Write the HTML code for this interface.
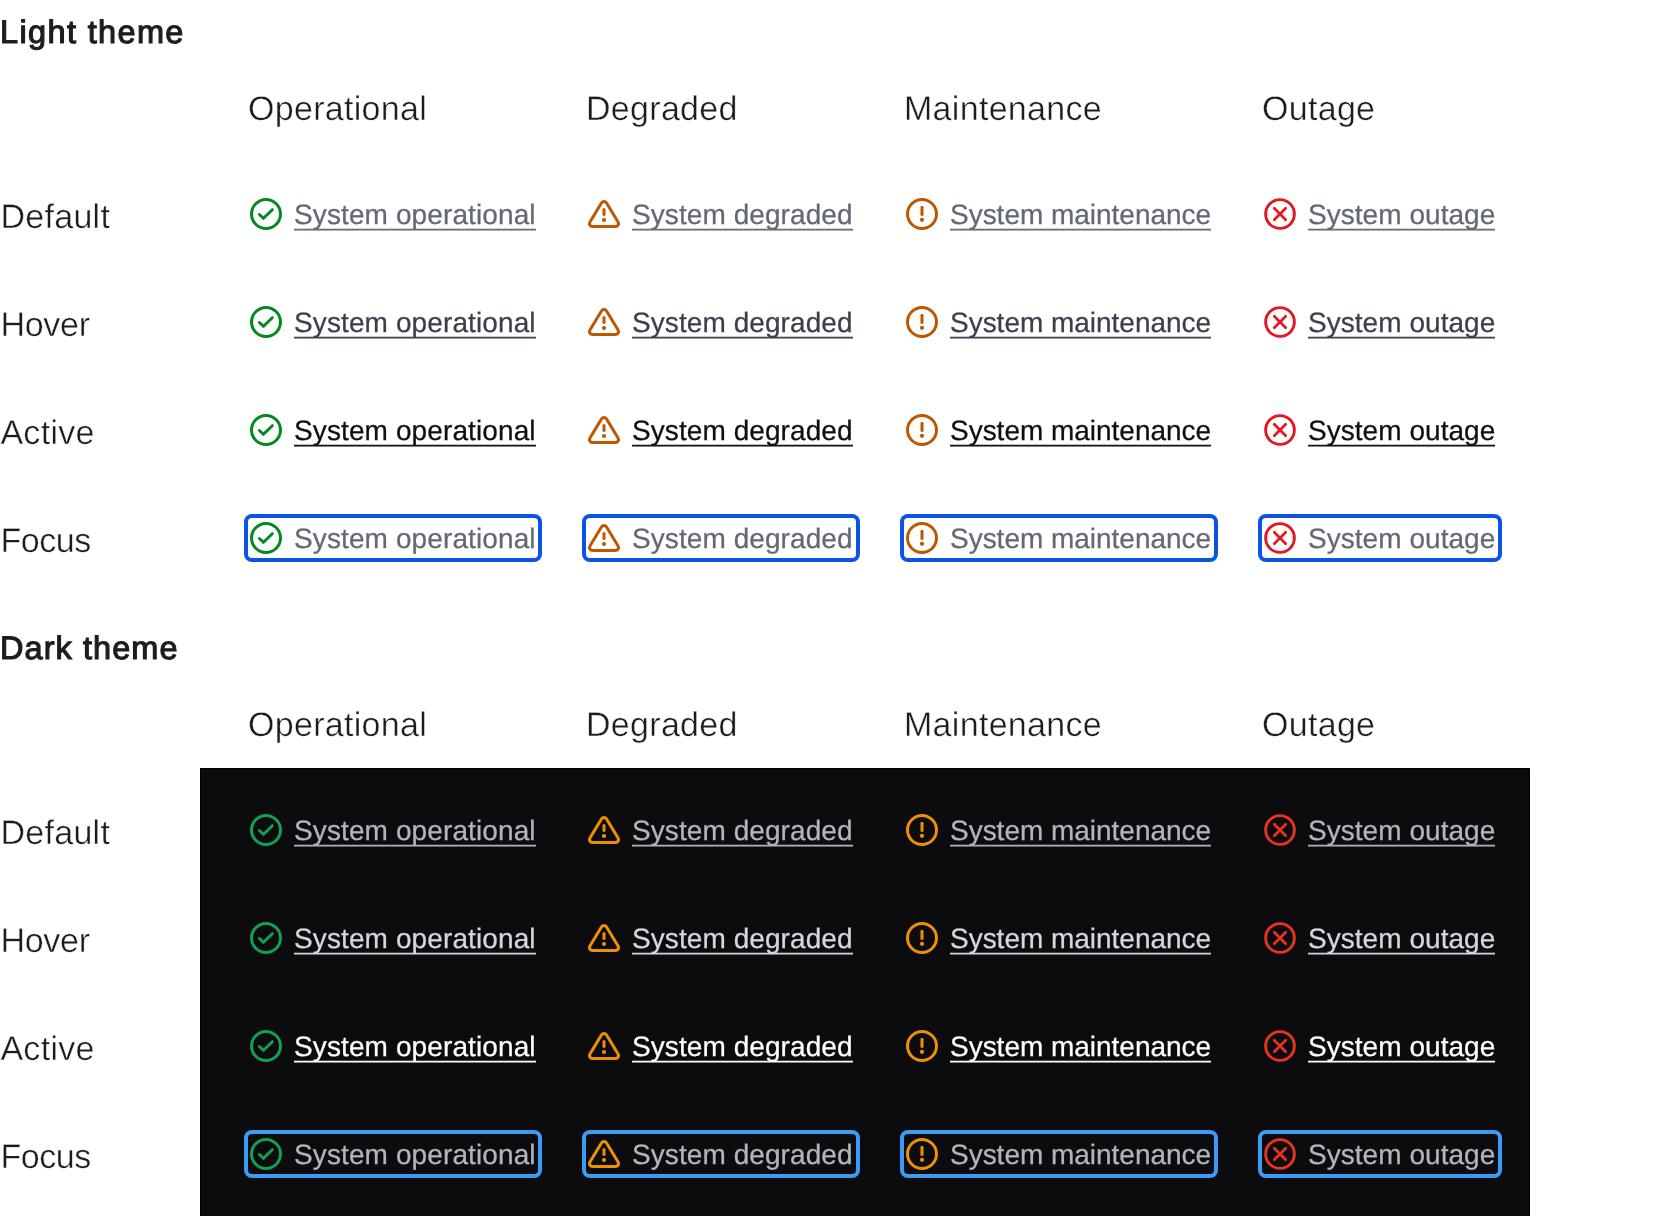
<!DOCTYPE html>
<html lang="en"><head><meta charset="utf-8"><title>System status link</title>
<style>
*{box-sizing:border-box;margin:0;padding:0}
html,body{width:1672px;height:1216px;overflow:hidden;background:#fff}
body{position:relative;font-family:"Liberation Sans", sans-serif;color:#1d1e22;-webkit-font-smoothing:antialiased;text-rendering:geometricPrecision}
section{position:absolute;left:0;top:0;width:1672px;height:1216px;will-change:transform}
h2{position:absolute;left:0;font-size:32.5px;font-weight:400;-webkit-text-stroke:1.15px #1c1d21;letter-spacing:1.36px;line-height:40px;color:#1c1d21;white-space:nowrap}
.ch,.rl{position:absolute;font-size:34px;font-weight:400;line-height:40px;color:#1b1c20;white-space:nowrap;letter-spacing:.3px;-webkit-text-stroke:.4px #fff}
.rl{left:0.4px}
.panel{position:absolute;left:200px;top:768px;width:1330px;height:460px;background:#0c0c0e;border:1px solid #000}
a.k{position:absolute;height:40px;display:block;text-decoration:none;border-radius:4px}
a.k svg{position:absolute;left:2px;top:4px;width:32px;height:32px;fill:none;stroke:currentColor;stroke-width:1.5;stroke-linecap:round;stroke-linejoin:round;overflow:visible}
a.k span{position:absolute;left:46px;top:0.7px;font-size:28px;line-height:40px;white-space:nowrap;color:rgb(var(--c));-webkit-text-stroke-width:.25px}
a.k::after{content:"";position:absolute;left:46px;right:3px;top:34px;height:3px;background:linear-gradient(to bottom,rgba(var(--c),.27) 0 1px,rgba(var(--c),.97) 1px 2px,rgba(var(--c),.52) 2px 3px)}
a.k.focus::after{display:none}
a.w0::after{right:2px}
.c0{letter-spacing:.11px} .c1{letter-spacing:.075px} .c2{letter-spacing:-.02px} .c3{letter-spacing:.04px}
.light a.k.focus{box-shadow:0 0 0 4px #0b52e6}
.dark a.k.focus{box-shadow:0 0 0 4px #3b9bf6}
.light .t-default,.light .t-focus{--c:99,104,118} .light .t-hover{--c:60,63,75} .light .t-active{--c:14,15,20}
.dark .t-default,.dark .t-focus{--c:177,181,191} .dark .t-hover{--c:212,215,222} .dark .t-active{--c:255,255,255}
.light .i-ok{color:#05881f} .light .i-warn{color:#bf5600} .light .i-maint{color:#bf5600} .light .i-out{color:#e4161f}
.dark .i-ok{color:#12a150} .dark .i-warn{color:#ee9002} .dark .i-maint{color:#ee9002} .dark .i-out{color:#e8341c}
</style></head>
<body>
<section class="light">
<h2 style="top:12px;">Light theme</h2>
<div class="ch" style="left:248px;top:89px">Operational</div>
<div class="ch" style="left:586px;top:89px">Degraded</div>
<div class="ch" style="left:904px;top:89px">Maintenance</div>
<div class="ch" style="left:1262px;top:89px">Outage</div>
<div class="rl" style="top:197px;">Default</div>
<a href="#" class="k t-default w0" style="left:248px;top:194px;width:290px"><svg class="i-ok" viewBox="0 0 16 16"><circle cx="8" cy="8" r="7.25"/><path d="M4.7 8.25 L6.75 10.15 L11.15 5.85"/></svg><span class="c0">System operational</span></a>
<a href="#" class="k t-default w1" style="left:586px;top:194px;width:270px"><svg class="i-warn" viewBox="0 0 16 16"><path d="M6.717 2.473 L0.967 11.973 A1.5 1.5 0 0 0 2.25 14.25 H13.75 A1.5 1.5 0 0 0 15.033 11.973 L9.283 2.473 A1.5 1.5 0 0 0 6.717 2.473 Z"/><path d="M8 5.8 V8.3"/><circle cx="8" cy="11" r="0.55" fill="currentColor" stroke-width="1"/></svg><span class="c1">System degraded</span></a>
<a href="#" class="k t-default w2" style="left:904px;top:194px;width:310px"><svg class="i-maint" viewBox="0 0 16 16"><circle cx="8" cy="8" r="7.25"/><path d="M8 4.6 V8.3"/><circle cx="8" cy="10.9" r="0.55" fill="currentColor" stroke-width="1"/></svg><span class="c2">System maintenance</span></a>
<a href="#" class="k t-default w3" style="left:1262px;top:194px;width:236px"><svg class="i-out" viewBox="0 0 16 16"><circle cx="8" cy="8" r="7.18" stroke-width="1.45"/><path stroke-width="1.35" d="M5.15 5.15 L10.85 10.85 M10.85 5.15 L5.15 10.85"/></svg><span class="c3">System outage</span></a>
<div class="rl" style="top:305px;letter-spacing:-.27px;">Hover</div>
<a href="#" class="k t-hover w0" style="left:248px;top:302px;width:290px"><svg class="i-ok" viewBox="0 0 16 16"><circle cx="8" cy="8" r="7.25"/><path d="M4.7 8.25 L6.75 10.15 L11.15 5.85"/></svg><span class="c0">System operational</span></a>
<a href="#" class="k t-hover w1" style="left:586px;top:302px;width:270px"><svg class="i-warn" viewBox="0 0 16 16"><path d="M6.717 2.473 L0.967 11.973 A1.5 1.5 0 0 0 2.25 14.25 H13.75 A1.5 1.5 0 0 0 15.033 11.973 L9.283 2.473 A1.5 1.5 0 0 0 6.717 2.473 Z"/><path d="M8 5.8 V8.3"/><circle cx="8" cy="11" r="0.55" fill="currentColor" stroke-width="1"/></svg><span class="c1">System degraded</span></a>
<a href="#" class="k t-hover w2" style="left:904px;top:302px;width:310px"><svg class="i-maint" viewBox="0 0 16 16"><circle cx="8" cy="8" r="7.25"/><path d="M8 4.6 V8.3"/><circle cx="8" cy="10.9" r="0.55" fill="currentColor" stroke-width="1"/></svg><span class="c2">System maintenance</span></a>
<a href="#" class="k t-hover w3" style="left:1262px;top:302px;width:236px"><svg class="i-out" viewBox="0 0 16 16"><circle cx="8" cy="8" r="7.18" stroke-width="1.45"/><path stroke-width="1.35" d="M5.15 5.15 L10.85 10.85 M10.85 5.15 L5.15 10.85"/></svg><span class="c3">System outage</span></a>
<div class="rl" style="top:413px;">Active</div>
<a href="#" class="k t-active w0" style="left:248px;top:410px;width:290px"><svg class="i-ok" viewBox="0 0 16 16"><circle cx="8" cy="8" r="7.25"/><path d="M4.7 8.25 L6.75 10.15 L11.15 5.85"/></svg><span class="c0">System operational</span></a>
<a href="#" class="k t-active w1" style="left:586px;top:410px;width:270px"><svg class="i-warn" viewBox="0 0 16 16"><path d="M6.717 2.473 L0.967 11.973 A1.5 1.5 0 0 0 2.25 14.25 H13.75 A1.5 1.5 0 0 0 15.033 11.973 L9.283 2.473 A1.5 1.5 0 0 0 6.717 2.473 Z"/><path d="M8 5.8 V8.3"/><circle cx="8" cy="11" r="0.55" fill="currentColor" stroke-width="1"/></svg><span class="c1">System degraded</span></a>
<a href="#" class="k t-active w2" style="left:904px;top:410px;width:310px"><svg class="i-maint" viewBox="0 0 16 16"><circle cx="8" cy="8" r="7.25"/><path d="M8 4.6 V8.3"/><circle cx="8" cy="10.9" r="0.55" fill="currentColor" stroke-width="1"/></svg><span class="c2">System maintenance</span></a>
<a href="#" class="k t-active w3" style="left:1262px;top:410px;width:236px"><svg class="i-out" viewBox="0 0 16 16"><circle cx="8" cy="8" r="7.18" stroke-width="1.45"/><path stroke-width="1.35" d="M5.15 5.15 L10.85 10.85 M10.85 5.15 L5.15 10.85"/></svg><span class="c3">System outage</span></a>
<div class="rl" style="top:521px;letter-spacing:-.45px;">Focus</div>
<a href="#" class="k t-focus focus w0" style="left:248px;top:518px;width:290px"><svg class="i-ok" viewBox="0 0 16 16"><circle cx="8" cy="8" r="7.25"/><path d="M4.7 8.25 L6.75 10.15 L11.15 5.85"/></svg><span class="c0">System operational</span></a>
<a href="#" class="k t-focus focus w1" style="left:586px;top:518px;width:270px"><svg class="i-warn" viewBox="0 0 16 16"><path d="M6.717 2.473 L0.967 11.973 A1.5 1.5 0 0 0 2.25 14.25 H13.75 A1.5 1.5 0 0 0 15.033 11.973 L9.283 2.473 A1.5 1.5 0 0 0 6.717 2.473 Z"/><path d="M8 5.8 V8.3"/><circle cx="8" cy="11" r="0.55" fill="currentColor" stroke-width="1"/></svg><span class="c1">System degraded</span></a>
<a href="#" class="k t-focus focus w2" style="left:904px;top:518px;width:310px"><svg class="i-maint" viewBox="0 0 16 16"><circle cx="8" cy="8" r="7.25"/><path d="M8 4.6 V8.3"/><circle cx="8" cy="10.9" r="0.55" fill="currentColor" stroke-width="1"/></svg><span class="c2">System maintenance</span></a>
<a href="#" class="k t-focus focus w3" style="left:1262px;top:518px;width:236px"><svg class="i-out" viewBox="0 0 16 16"><circle cx="8" cy="8" r="7.18" stroke-width="1.45"/><path stroke-width="1.35" d="M5.15 5.15 L10.85 10.85 M10.85 5.15 L5.15 10.85"/></svg><span class="c3">System outage</span></a>
</section>
<section class="dark">
<h2 style="top:628px;letter-spacing:1.06px;">Dark theme</h2>
<div class="panel"></div>
<div class="ch" style="left:248px;top:705px">Operational</div>
<div class="ch" style="left:586px;top:705px">Degraded</div>
<div class="ch" style="left:904px;top:705px">Maintenance</div>
<div class="ch" style="left:1262px;top:705px">Outage</div>
<div class="rl" style="top:813px;">Default</div>
<a href="#" class="k t-default w0" style="left:248px;top:810px;width:290px"><svg class="i-ok" viewBox="0 0 16 16"><circle cx="8" cy="8" r="7.25"/><path d="M4.7 8.25 L6.75 10.15 L11.15 5.85"/></svg><span class="c0">System operational</span></a>
<a href="#" class="k t-default w1" style="left:586px;top:810px;width:270px"><svg class="i-warn" viewBox="0 0 16 16"><path d="M6.717 2.473 L0.967 11.973 A1.5 1.5 0 0 0 2.25 14.25 H13.75 A1.5 1.5 0 0 0 15.033 11.973 L9.283 2.473 A1.5 1.5 0 0 0 6.717 2.473 Z"/><path d="M8 5.8 V8.3"/><circle cx="8" cy="11" r="0.55" fill="currentColor" stroke-width="1"/></svg><span class="c1">System degraded</span></a>
<a href="#" class="k t-default w2" style="left:904px;top:810px;width:310px"><svg class="i-maint" viewBox="0 0 16 16"><circle cx="8" cy="8" r="7.25"/><path d="M8 4.6 V8.3"/><circle cx="8" cy="10.9" r="0.55" fill="currentColor" stroke-width="1"/></svg><span class="c2">System maintenance</span></a>
<a href="#" class="k t-default w3" style="left:1262px;top:810px;width:236px"><svg class="i-out" viewBox="0 0 16 16"><circle cx="8" cy="8" r="7.18" stroke-width="1.45"/><path stroke-width="1.35" d="M5.15 5.15 L10.85 10.85 M10.85 5.15 L5.15 10.85"/></svg><span class="c3">System outage</span></a>
<div class="rl" style="top:921px;letter-spacing:-.27px;">Hover</div>
<a href="#" class="k t-hover w0" style="left:248px;top:918px;width:290px"><svg class="i-ok" viewBox="0 0 16 16"><circle cx="8" cy="8" r="7.25"/><path d="M4.7 8.25 L6.75 10.15 L11.15 5.85"/></svg><span class="c0">System operational</span></a>
<a href="#" class="k t-hover w1" style="left:586px;top:918px;width:270px"><svg class="i-warn" viewBox="0 0 16 16"><path d="M6.717 2.473 L0.967 11.973 A1.5 1.5 0 0 0 2.25 14.25 H13.75 A1.5 1.5 0 0 0 15.033 11.973 L9.283 2.473 A1.5 1.5 0 0 0 6.717 2.473 Z"/><path d="M8 5.8 V8.3"/><circle cx="8" cy="11" r="0.55" fill="currentColor" stroke-width="1"/></svg><span class="c1">System degraded</span></a>
<a href="#" class="k t-hover w2" style="left:904px;top:918px;width:310px"><svg class="i-maint" viewBox="0 0 16 16"><circle cx="8" cy="8" r="7.25"/><path d="M8 4.6 V8.3"/><circle cx="8" cy="10.9" r="0.55" fill="currentColor" stroke-width="1"/></svg><span class="c2">System maintenance</span></a>
<a href="#" class="k t-hover w3" style="left:1262px;top:918px;width:236px"><svg class="i-out" viewBox="0 0 16 16"><circle cx="8" cy="8" r="7.18" stroke-width="1.45"/><path stroke-width="1.35" d="M5.15 5.15 L10.85 10.85 M10.85 5.15 L5.15 10.85"/></svg><span class="c3">System outage</span></a>
<div class="rl" style="top:1029px;">Active</div>
<a href="#" class="k t-active w0" style="left:248px;top:1026px;width:290px"><svg class="i-ok" viewBox="0 0 16 16"><circle cx="8" cy="8" r="7.25"/><path d="M4.7 8.25 L6.75 10.15 L11.15 5.85"/></svg><span class="c0">System operational</span></a>
<a href="#" class="k t-active w1" style="left:586px;top:1026px;width:270px"><svg class="i-warn" viewBox="0 0 16 16"><path d="M6.717 2.473 L0.967 11.973 A1.5 1.5 0 0 0 2.25 14.25 H13.75 A1.5 1.5 0 0 0 15.033 11.973 L9.283 2.473 A1.5 1.5 0 0 0 6.717 2.473 Z"/><path d="M8 5.8 V8.3"/><circle cx="8" cy="11" r="0.55" fill="currentColor" stroke-width="1"/></svg><span class="c1">System degraded</span></a>
<a href="#" class="k t-active w2" style="left:904px;top:1026px;width:310px"><svg class="i-maint" viewBox="0 0 16 16"><circle cx="8" cy="8" r="7.25"/><path d="M8 4.6 V8.3"/><circle cx="8" cy="10.9" r="0.55" fill="currentColor" stroke-width="1"/></svg><span class="c2">System maintenance</span></a>
<a href="#" class="k t-active w3" style="left:1262px;top:1026px;width:236px"><svg class="i-out" viewBox="0 0 16 16"><circle cx="8" cy="8" r="7.18" stroke-width="1.45"/><path stroke-width="1.35" d="M5.15 5.15 L10.85 10.85 M10.85 5.15 L5.15 10.85"/></svg><span class="c3">System outage</span></a>
<div class="rl" style="top:1137px;letter-spacing:-.45px;">Focus</div>
<a href="#" class="k t-focus focus w0" style="left:248px;top:1134px;width:290px"><svg class="i-ok" viewBox="0 0 16 16"><circle cx="8" cy="8" r="7.25"/><path d="M4.7 8.25 L6.75 10.15 L11.15 5.85"/></svg><span class="c0">System operational</span></a>
<a href="#" class="k t-focus focus w1" style="left:586px;top:1134px;width:270px"><svg class="i-warn" viewBox="0 0 16 16"><path d="M6.717 2.473 L0.967 11.973 A1.5 1.5 0 0 0 2.25 14.25 H13.75 A1.5 1.5 0 0 0 15.033 11.973 L9.283 2.473 A1.5 1.5 0 0 0 6.717 2.473 Z"/><path d="M8 5.8 V8.3"/><circle cx="8" cy="11" r="0.55" fill="currentColor" stroke-width="1"/></svg><span class="c1">System degraded</span></a>
<a href="#" class="k t-focus focus w2" style="left:904px;top:1134px;width:310px"><svg class="i-maint" viewBox="0 0 16 16"><circle cx="8" cy="8" r="7.25"/><path d="M8 4.6 V8.3"/><circle cx="8" cy="10.9" r="0.55" fill="currentColor" stroke-width="1"/></svg><span class="c2">System maintenance</span></a>
<a href="#" class="k t-focus focus w3" style="left:1262px;top:1134px;width:236px"><svg class="i-out" viewBox="0 0 16 16"><circle cx="8" cy="8" r="7.18" stroke-width="1.45"/><path stroke-width="1.35" d="M5.15 5.15 L10.85 10.85 M10.85 5.15 L5.15 10.85"/></svg><span class="c3">System outage</span></a>
</section>
</body></html>
